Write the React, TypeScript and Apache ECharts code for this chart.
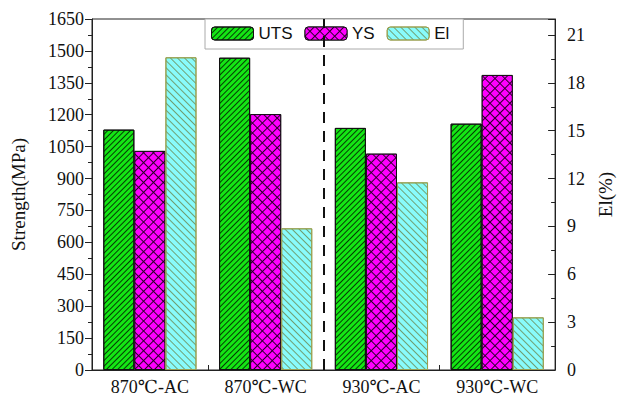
import React, { useEffect, useRef } from "react";
import * as echarts from "echarts";

// Heat-treatment conditions and measured properties
const categories = ["870℃-AC", "870℃-WC", "930℃-AC", "930℃-WC"];
const utsValues = [1130, 1468, 1138, 1158]; // MPa
const ysValues = [1030, 1203, 1017, 1387]; // MPa
const elValues = [19.6, 8.88, 11.76, 3.3]; // %

// Axis ranges
const strengthMin = 0;
const strengthMax = 1650;
const strengthStep = 150;
const elMin = 0;
const elMax = 22;
const elStep = 3;

const serif = '"Liberation Serif", "DejaVu Serif", "Times New Roman", serif';
const sans = '"Liberation Sans", Arial, sans-serif';

const utsColor = "#14e614";
const ysColor = "#ff00ff";
const elColor = "#88fbfb";

// Fill patterns: "/" hatch, diamond cross-hatch, "\" hatch
const utsDecal = {
  symbol: "rect",
  dashArrayX: [1, 0],
  dashArrayY: [0.85, 3],
  rotation: -Math.PI / 4,
  color: "rgba(0,0,0,0.75)",
};
const ysDecal = {
  symbol: "rect",
  dashArrayX: [5.1, 0.85],
  dashArrayY: [5.1, 0.85],
  rotation: Math.PI / 4,
  color: ysColor,
};
const elDecal = {
  symbol: "rect",
  dashArrayX: [1, 0],
  dashArrayY: [0.9, 3.6],
  rotation: Math.PI / 4,
  color: "rgba(110,150,100,0.9)",
};

const plainNumber = (v: number) => String(v);

export default function App() {
  const ref = useRef<HTMLDivElement>(null);

  useEffect(() => {
    if (!ref.current) return;
    const chart = echarts.init(ref.current, null, { renderer: "svg" });
    chart.setOption({
      animation: false,
      backgroundColor: "#fff",
      grid: {
        left: 92,
        right: 55,
        top: 19,
        bottom: 32,
        show: true,
        borderColor: "#222",
        borderWidth: 1,
        backgroundColor: "transparent",
      },
      legend: {
        left: 205,
        top: 19,
        orient: "horizontal",
        itemWidth: 42,
        itemHeight: 13,
        itemGap: 12,
        padding: [6, 14, 7, 6],
        borderColor: "#aaa",
        borderWidth: 1,
        backgroundColor: "#fff",
        textStyle: { fontFamily: sans, fontSize: 17, color: "#111" },
        data: [
          { name: "UTS", itemStyle: { color: utsColor, decal: utsDecal, borderColor: "#111", borderWidth: 1 } },
          { name: "YS", itemStyle: { color: "#2a002a", decal: ysDecal, borderColor: "#111", borderWidth: 1 } },
          { name: "El", itemStyle: { color: elColor, decal: elDecal, borderColor: "#9aa050", borderWidth: 1 } },
        ],
      },
      xAxis: [
        {
          type: "category",
          data: categories,
          position: "bottom",
          axisLine: { lineStyle: { color: "#222", width: 1 } },
          axisTick: { alignWithLabel: true, length: 6, lineStyle: { color: "#222" } },
          axisLabel: { fontFamily: serif, fontSize: 18, color: "#111", margin: 8 },
          splitLine: { show: false },
        },
        {
          type: "value",
          min: 0,
          max: categories.length,
          interval: 1,
          position: "bottom",
          axisLine: { show: false },
          axisTick: { show: true, inside: true, length: 5, lineStyle: { color: "#222" } },
          axisLabel: { show: false },
          splitLine: { show: false },
        },
      ],
      yAxis: [
        {
          type: "value",
          min: strengthMin,
          max: strengthMax,
          interval: strengthStep,
          position: "left",
          name: "Strength(MPa)",
          nameLocation: "middle",
          nameRotate: 90,
          nameGap: 64,
          nameTextStyle: { fontFamily: serif, fontSize: 19, color: "#111" },
          axisLine: { show: true, lineStyle: { color: "#222" } },
          axisTick: { show: true, length: 7, lineStyle: { color: "#222" } },
          minorTick: { show: true, splitNumber: 2, length: 4, lineStyle: { color: "#222" } },
          axisLabel: { fontFamily: serif, fontSize: 18, color: "#111", margin: 8, formatter: plainNumber },
          splitLine: { show: false },
        },
        {
          type: "value",
          min: elMin,
          max: elMax,
          interval: elStep,
          position: "right",
          name: "El(%)",
          nameLocation: "middle",
          nameRotate: 90,
          nameGap: 34,
          nameTextStyle: { fontFamily: serif, fontSize: 19, color: "#111" },
          axisLine: { show: true, lineStyle: { color: "#222" } },
          axisTick: { show: true, inside: true, length: 7, lineStyle: { color: "#222" } },
          minorTick: { show: true, splitNumber: 2, length: 4, lineStyle: { color: "#222" } },
          axisLabel: { fontFamily: serif, fontSize: 18, color: "#111", margin: 12, showMaxLabel: false, formatter: plainNumber },
          splitLine: { show: false },
        },
      ],
      series: [
        {
          name: "UTS",
          type: "bar",
          xAxisIndex: 0,
          yAxisIndex: 0,
          data: utsValues,
          barGap: "0%",
          barCategoryGap: "19.5%",
          itemStyle: { color: utsColor, decal: utsDecal, borderColor: "#111", borderWidth: 1 },
        },
        {
          name: "YS",
          type: "bar",
          xAxisIndex: 0,
          yAxisIndex: 0,
          data: ysValues,
          barGap: "0%",
          barCategoryGap: "19.5%",
          itemStyle: { color: "#2a002a", decal: ysDecal, borderColor: "#111", borderWidth: 1 },
        },
        {
          name: "El",
          type: "bar",
          xAxisIndex: 0,
          yAxisIndex: 1,
          data: elValues,
          barGap: "0%",
          barCategoryGap: "19.5%",
          itemStyle: { color: elColor, decal: elDecal, borderColor: "#9aa050", borderWidth: 1 },
        },
        {
          name: "separator",
          type: "line",
          xAxisIndex: 1,
          yAxisIndex: 0,
          data: [],
          markLine: {
            silent: true,
            symbol: ["none", "none"],
            label: { show: false },
            lineStyle: { color: "#111", type: [11, 8], width: 2 },
            data: [{ xAxis: categories.length / 2 }],
          },
        },
      ],
    });
    return () => chart.dispose();
  }, []);

  return <div ref={ref} style={{ position: "fixed", left: 0, top: 0, width: 623, height: 402 }} />;
}
